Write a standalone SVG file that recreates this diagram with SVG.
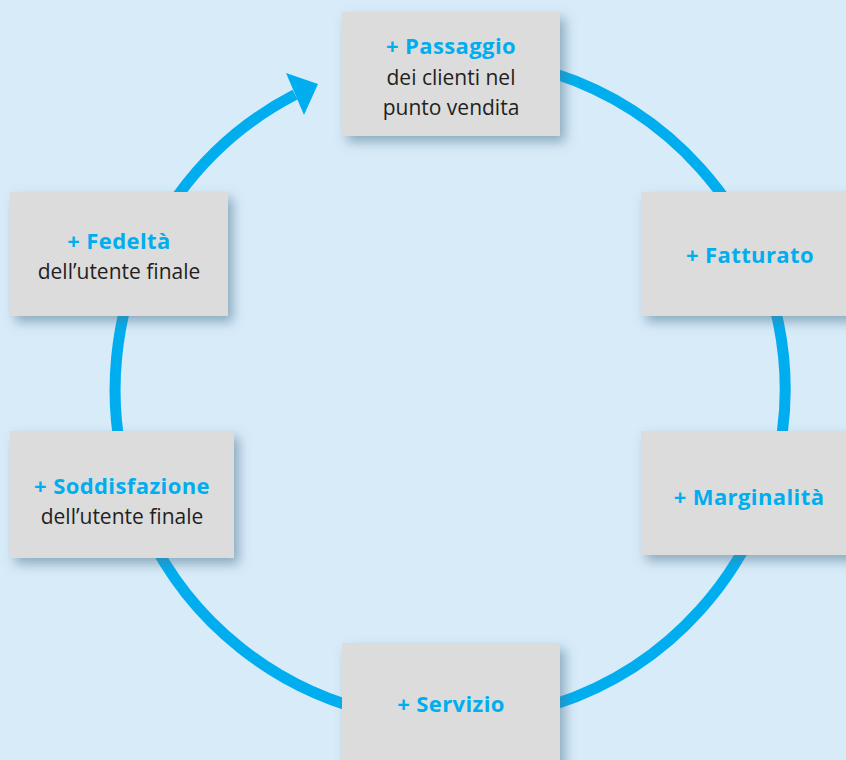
<svg xmlns="http://www.w3.org/2000/svg" width="846" height="760" viewBox="0 0 846 760">
  <defs>
    <filter id="sh" x="-20%" y="-20%" width="150%" height="150%">
      <feDropShadow dx="5" dy="6" stdDeviation="6" flood-color="#4d7591" flood-opacity="0.55"/>
    </filter>
    <style>
      .box { fill: #DCDCDC; filter: url(#sh); }
      .b { font-family: "Open Sans", "Noto Sans", sans-serif; font-weight: 700; font-size: 22px; letter-spacing: 0.4px; fill: #00AEEF; text-anchor: middle; }
      .r { font-family: "Open Sans", "Noto Sans", sans-serif; font-weight: 400; font-size: 21px; fill: #231F20; text-anchor: middle; }
      .ring { fill: none; stroke: #00AEEF; stroke-width: 11; }
    </style>
  </defs>
  <rect x="0" y="0" width="846" height="760" fill="#D8EBF8"/>
  <g id="connectors">
    <path class="ring" d="M 400 60.7 A 335 332 0 1 1 295 94.7"/>
    <polygon points="286,73 318,84 304,115" fill="#00AEEF"/>
  </g>
  <g id="passaggio">
    <rect class="box" x="342" y="12" width="218" height="124"/>
    <text class="b" x="451" y="54">+ Passaggio</text>
    <text class="r" x="451" y="85">dei clienti nel</text>
    <text class="r" x="451" y="115">punto vendita</text>
  </g>
  <g id="fatturato">
    <rect class="box" x="641" y="192" width="218" height="124"/>
    <text class="b" x="750" y="263">+ Fatturato</text>
  </g>
  <g id="marginalita">
    <rect class="box" x="641" y="431" width="218" height="124"/>
    <text class="b" x="749" y="505">+ Marginalità</text>
  </g>
  <g id="servizio">
    <rect class="box" x="342" y="643" width="218" height="124"/>
    <text class="b" x="451" y="712">+ Servizio</text>
  </g>
  <g id="soddisfazione">
    <rect class="box" x="10" y="431" width="224" height="127"/>
    <text class="b" x="122" y="494">+ Soddisfazione</text>
    <text class="r" x="122" y="524">dell’utente finale</text>
  </g>
  <g id="fedelta">
    <rect class="box" x="10" y="192" width="218" height="124"/>
    <text class="b" x="119" y="249">+ Fedeltà</text>
    <text class="r" x="119" y="279">dell’utente finale</text>
  </g>
</svg>
